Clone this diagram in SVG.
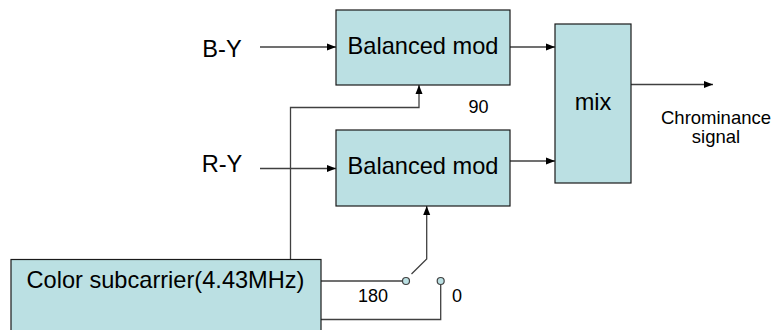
<svg xmlns="http://www.w3.org/2000/svg" width="774" height="330" viewBox="0 0 774 330">
<style>
.box{fill:#BBE0E3;stroke:#1a1a1a;stroke-width:1.2}
.t{font-family:"Liberation Sans",Arial,sans-serif;fill:#000}
.big{font-size:23.6px}
.sm{font-size:18px}
.ln{fill:none;stroke:#404040;stroke-width:1.3}
.arr{marker-end:url(#ah)}
.sw{fill:#BBE0E3;stroke:#404040;stroke-width:1.2}
</style>
<defs>
<marker id="ah" markerWidth="9" markerHeight="8" refX="9" refY="4" orient="auto" markerUnits="userSpaceOnUse">
<path d="M0,0.5 L9,4 L0,7.5 Z" fill="#000"/>
</marker>
</defs>
<g id="connectors">
<line class="ln arr" x1="260" y1="47" x2="336" y2="47"/>
<line class="ln arr" x1="260" y1="168.5" x2="336" y2="168.5"/>
<line class="ln arr" x1="510" y1="47" x2="555" y2="47"/>
<line class="ln arr" x1="510" y1="161" x2="555" y2="161"/>
<line class="ln arr" x1="631" y1="84.5" x2="713" y2="84.5"/>
<polyline class="ln arr" points="290.5,259.5 290.5,107.5 419,107.5 419,85"/>
<line class="ln" x1="321" y1="281" x2="402.5" y2="281"/>
<polyline class="ln arr" points="411.5,274 426.7,259 426.7,206"/>
<polyline class="ln" points="321,319.5 440.7,319.5 440.7,284.5"/>
</g>
<g id="node-bmod-top">
<rect class="box" x="336" y="10" width="174" height="75"/>
<text class="t big" x="423" y="54" text-anchor="middle">Balanced mod</text>
</g>
<g id="node-bmod-bottom">
<rect class="box" x="336" y="130" width="174" height="76"/>
<text class="t big" x="423" y="173.5" text-anchor="middle">Balanced mod</text>
</g>
<g id="node-mix">
<rect class="box" x="555" y="24" width="76" height="159"/>
<text class="t big" x="593" y="110" text-anchor="middle">mix</text>
</g>
<g id="node-subcarrier">
<rect class="box" x="11" y="259.5" width="310" height="90"/>
<text class="t big" x="165.5" y="288" text-anchor="middle">Color subcarrier(4.43MHz)</text>
</g>
<g id="node-switch">
<circle class="sw" cx="406" cy="281" r="3.5"/>
<circle class="sw" cx="440.7" cy="281" r="3.5"/>
</g>
<g id="labels">
<text class="t big" x="222" y="57" text-anchor="middle">B-Y</text>
<text class="t big" x="222" y="172" text-anchor="middle">R-Y</text>
<text class="t sm" x="478.5" y="113" text-anchor="middle">90</text>
<text class="t sm" x="373" y="301.5" text-anchor="middle">180</text>
<text class="t sm" x="457" y="301.5" text-anchor="middle">0</text>
<text class="t" font-size="18.5" x="716" y="123.5" text-anchor="middle">Chrominance</text>
<text class="t" font-size="18.5" x="716" y="143" text-anchor="middle">signal</text>
</g>
</svg>
